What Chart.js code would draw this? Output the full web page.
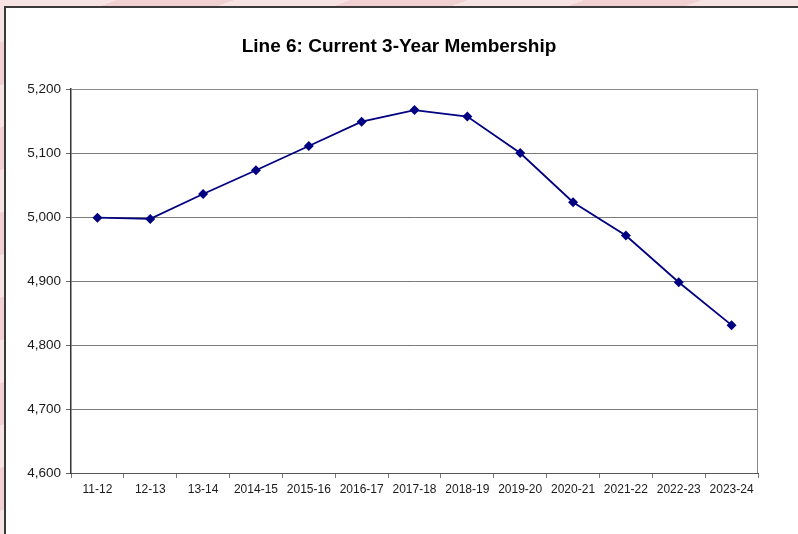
<!DOCTYPE html>
<html>
<head>
<meta charset="utf-8">
<title>Line 6: Current 3-Year Membership</title>
<script src="https://cdn.jsdelivr.net/npm/chart.js@4/dist/chart.umd.min.js"></script>
<style>
  html, body { margin: 0; padding: 0; }
  body {
    width: 798px; height: 534px; overflow: hidden; position: relative;
    background: repeating-linear-gradient(160deg, #f7e3e4 0px, #f7e3e4 40px, #f1d0d3 40px, #f1d0d3 80px);
  }
  #frame {
    position: absolute; left: 4px; top: 6px; right: 0; bottom: 0;
    background: #fff;
    border-left: 2px solid #3a3a3a;
    border-top: 2px solid #3a3a3a;
  }
  #myChart { position: absolute; left: 0; top: 0; }
</style>
</head>
<body>
<div id="frame"></div>
<canvas id="myChart" width="798" height="534"></canvas>
<script>
// temporadas y membresia de 3 anios
var temporadas = ['11-12', '12-13', '13-14', '2014-15', '2015-16', '2016-17', '2017-18',
    '2018-19', '2019-20', '2020-21', '2021-22', '2022-23', '2023-24'];
var membresia = [4999, 4997, 5036, 5073, 5111, 5149, 5167, 5157, 5100, 5023, 4971, 4898, 4831];

// marco gris alrededor del area del grafico
var bordeArea = {
    id: 'bordeArea',
    afterDraw: function (chart) {
        var a = chart.chartArea;
        var ctx = chart.ctx;
        ctx.save();
        ctx.strokeStyle = '#8a8a8a';
        ctx.lineWidth = 1;
        ctx.beginPath();
        ctx.moveTo(a.left, a.top + 0.5);
        ctx.lineTo(a.right - 0.5, a.top + 0.5);
        ctx.lineTo(a.right - 0.5, a.bottom);
        ctx.stroke();
        ctx.restore();
    }
};

var fuente = 'Arial, "Liberation Sans", sans-serif';

var ctx = document.getElementById('myChart').getContext('2d');
new Chart(ctx, {
    type: 'line',
    data: {
        labels: temporadas,
        datasets: [{
            label: 'Membership',
            data: membresia,
            borderColor: '#000080',
            backgroundColor: '#000080',
            borderWidth: 1.8,
            pointStyle: 'rectRot',
            pointRadius: 5,
            pointBorderWidth: 0,
            fill: false,
            tension: 0
        }]
    },
    options: {
        responsive: false,
        animation: false,
        layout: {
            padding: { left: 0, right: 0, top: 0, bottom: 0 }
        },
        plugins: {
            legend: { display: false },
            tooltip: { enabled: false },
            title: {
                display: true,
                text: 'Line 6: Current 3-Year Membership',
                color: '#000',
                font: { family: fuente, size: 19, weight: 'bold' },
                padding: { top: 35, bottom: 31.2 }
            }
        },
        scales: {
            x: {
                offset: true,
                afterFit: function (scale) { scale.height = 61; },
                grid: {
                    offset: true,
                    drawOnChartArea: false,
                    drawTicks: true,
                    tickLength: 5,
                    tickColor: '#777'
                },
                border: { color: '#555', width: 1 },
                ticks: {
                    color: '#1a1a1a',
                    padding: 4,
                    maxRotation: 0,
                    autoSkip: false,
                    font: { family: fuente, size: 12 }
                }
            },
            y: {
                min: 4600,
                max: 5200,
                afterFit: function (scale) { scale.width = 71; },
                grid: {
                    color: '#7a7a7a',
                    lineWidth: 1,
                    drawTicks: true,
                    tickLength: 5,
                    tickColor: '#666'
                },
                border: { color: '#333', width: 1.5 },
                ticks: {
                    stepSize: 100,
                    color: '#1a1a1a',
                    padding: 5,
                    font: { family: fuente, size: 13.5 },
                    callback: function (v) { return v.toLocaleString('en-US'); }
                }
            },
            // eje vacio a la derecha, solo reserva el margen
            margen: {
                type: 'linear',
                position: 'right',
                display: true,
                afterFit: function (scale) { scale.width = 40; },
                grid: { display: false },
                border: { display: false },
                ticks: { display: false }
            }
        }
    },
    plugins: [bordeArea]
});
</script>
</body>
</html>
